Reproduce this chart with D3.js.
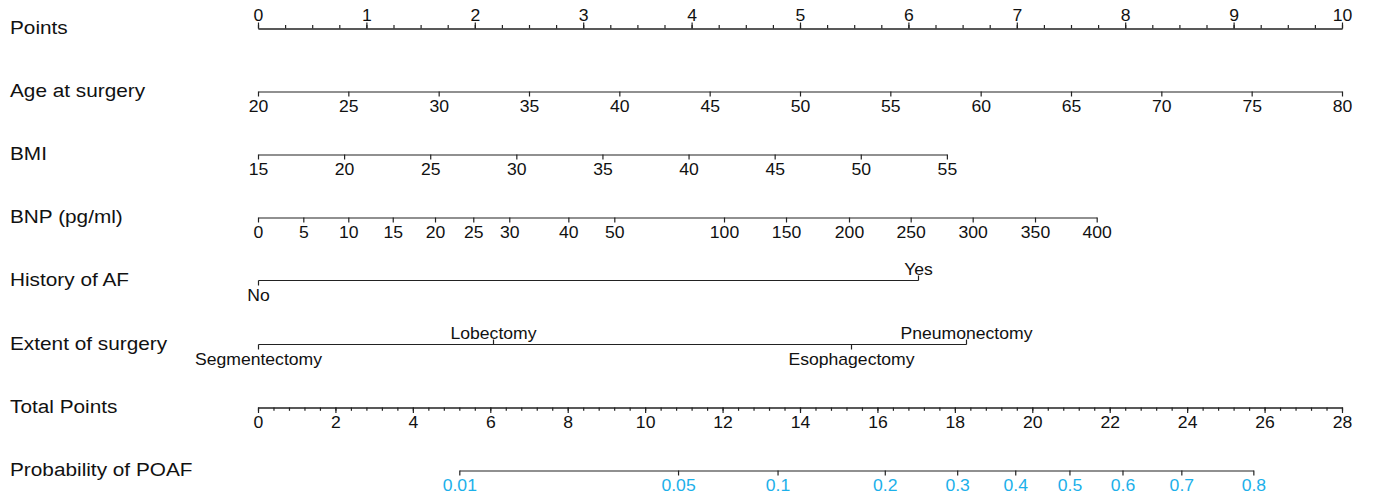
<!DOCTYPE html>
<html>
<head>
<meta charset="utf-8">
<script src="https://cdn.jsdelivr.net/npm/d3@7"></script>
<style>
body { margin: 0; background: #fff; }
text { font-family: "Liberation Sans", Arial, sans-serif; }
</style>
</head>
<body>
<div id="chart"></div>
<script>
// row names, top to bottom
var rowLabels = ["Points", "Age at surgery", "BMI", "BNP (pg/ml)", "History of AF",
	"Extent of surgery", "Total Points", "Probability of POAF"];

var pointsTicks = [0, 1, 2, 3, 4, 5, 6, 7, 8, 9, 10];

var ageTicks = [20, 25, 30, 35, 40, 45, 50, 55, 60, 65, 70, 75, 80];
var ageRange = [20, 80];
var agePoints = [0, 10];

var bmiTicks = [15, 20, 25, 30, 35, 40, 45, 50, 55];
var bmiRange = [15, 55];
var bmiPoints = [0, 6.355];

// BNP is not linear in points, read tick by tick
var bnpTicks  = [0, 5, 10, 15, 20, 25, 30, 40, 50, 100, 150, 200, 250, 300, 350, 400];
var bnpPoints = [0, 0.418, 0.833, 1.243, 1.633, 1.986, 2.318, 2.863, 3.287,
	4.299, 4.871, 5.452, 6.021, 6.593, 7.168, 7.737];

var afLevels = ["No", "Yes"];
var afPoints = [0, 6.09];

var surgeryLevels = ["Segmentectomy", "Lobectomy", "Esophagectomy", "Pneumonectomy"];
var surgeryPoints = [0, 2.17, 5.47, 6.53];

var totalTicks = [0, 2, 4, 6, 8, 10, 12, 14, 16, 18, 20, 22, 24, 26, 28];

var probTicks = [0.01, 0.05, 0.1, 0.2, 0.3, 0.4, 0.5, 0.6, 0.7, 0.8];
var probTotalPoints = [5.20, 10.85, 13.42, 16.19, 18.06, 19.56, 20.96, 22.33, 23.85, 25.71];

var chart_width = 1373,
	chart_height = 500,
	x_left = 258,
	x_right = 1342;

var line_color = "#222",
	text_color = "#111",
	prob_color = "#1cb0ea";

function row_y(i) {
	return Math.round(27.5 + i * 63.2) + 0.5;
}

var svg = d3.select("#chart")
	.append("svg")
		.attr("width", chart_width)
		.attr("height", chart_height);

svg.append("rect")
	.attr("width", chart_width)
	.attr("height", chart_height)
	.attr("fill", "#fff");

var points = d3.scaleLinear().domain([0, 10]).range([x_left, x_right]);
var total = d3.scaleLinear().domain([0, 28]).range([x_left, x_right]);

//row labels
svg.selectAll("text.row")
	.data(rowLabels)
	.enter()
	.append("text")
	.attr("class", "row")
	.attr("transform", function(d, i) {
		return "translate(10," + (row_y(i) + 5.5) + ") scale(1.1,1)";
	})
	.attr("font-size", 18.9)
	.attr("fill", text_color)
	.text(function(d) { return d; });

function styleAxis(g, color) {
	g.attr("font-family", null).attr("font-size", null);
	g.selectAll("path.domain, line")
		.attr("stroke", line_color)
		.attr("stroke-width", 1.2);
	g.selectAll("text")
		.attr("font-size", 16)
		.attr("fill", color || text_color)
		.attr("transform", "scale(1.1,1)");
}

function addAxis(i, axis) {
	var g = svg.append("g")
		.attr("transform", "translate(0," + row_y(i) + ")")
		.call(axis.tickSizeOuter(0));
	return g;
}

// Points (ticks up, minor every 0.25)
addAxis(0, d3.axisTop(points).tickValues(d3.range(0, 10.001, 0.25)).tickSize(3.5).tickFormat(""))
	.call(styleAxis);
addAxis(0, d3.axisTop(points).tickValues(pointsTicks).tickSize(6).tickPadding(1.5))
	.call(styleAxis);

// Age
var ageScale = d3.scaleLinear().domain(ageRange).range(agePoints.map(points));
addAxis(1, d3.axisBottom(ageScale).tickValues(ageTicks).tickSize(5).tickPadding(4.1))
	.call(styleAxis);

// BMI
var bmiScale = d3.scaleLinear().domain(bmiRange).range(bmiPoints.map(points));
addAxis(2, d3.axisBottom(bmiScale).tickValues(bmiTicks).tickSize(5).tickPadding(4.1))
	.call(styleAxis);

// BNP
var bnpScale = d3.scaleLinear().domain(bnpTicks).range(bnpPoints.map(points));
addAxis(3, d3.axisBottom(bnpScale).tickValues(bnpTicks).tickSize(5).tickPadding(4.1))
	.call(styleAxis);

// categorical rows, labels alternate below / above
function catAxis(i, levels, pts) {
	var order = d3.range(levels.length).sort(function(a, b) { return pts[a] - pts[b]; });
	var g = svg.append("g").attr("transform", "translate(0," + row_y(i) + ")");
	g.append("line")
		.attr("x1", Math.round(points(d3.min(pts))) + 0.5)
		.attr("x2", Math.round(points(d3.max(pts))) + 0.5)
		.attr("stroke", line_color)
		.attr("stroke-width", 1.2);
	var tick = g.selectAll("g.tick")
		.data(order)
		.enter()
		.append("g")
		.attr("transform", function(k) {
			return "translate(" + (Math.round(points(pts[k])) + 0.5) + ",0)";
		});
	tick.append("line")
		.attr("y2", function(k, j) { return j % 2 ? -5 : 5; })
		.attr("stroke", line_color)
		.attr("stroke-width", 1.2);
	tick.append("text")
		.attr("y", function(k, j) { return j % 2 ? -6 : 20.5; })
		.attr("text-anchor", "middle")
		.attr("font-size", 16)
		.attr("fill", text_color)
		.attr("transform", "scale(1.1,1)")
		.text(function(k) { return levels[k]; });
}

catAxis(4, afLevels, afPoints);
catAxis(5, surgeryLevels, surgeryPoints);

// Total points (minor every 0.4)
addAxis(6, d3.axisBottom(total).tickValues(d3.range(0, 28.001, 0.4)).tickSize(3.3).tickFormat(""))
	.call(styleAxis);
addAxis(6, d3.axisBottom(total).tickValues(totalTicks).tickSize(5.5).tickPadding(3.6))
	.call(styleAxis);

// Probability
var probScale = d3.scaleLinear().domain(probTicks).range(probTotalPoints.map(total));
addAxis(7, d3.axisBottom(probScale).tickValues(probTicks).tickSize(5).tickPadding(4.1)
		.tickFormat(function(d) { return String(d); }))
	.call(styleAxis, prob_color);
</script>
</body>
</html>
